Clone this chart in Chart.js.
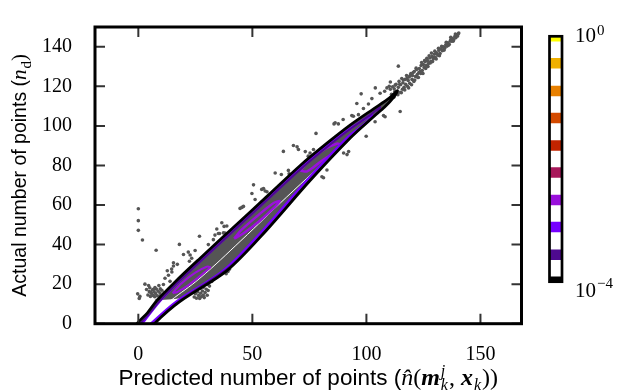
<!DOCTYPE html>
<html>
<head>
<meta charset="utf-8">
<script src="https://cdn.jsdelivr.net/npm/chart.js@4.4.0/dist/chart.umd.min.js"></script>
<style>
  html, body { margin: 0; padding: 0; background: #fff; }
  #wrap { position: relative; width: 622px; height: 392px; }
  #mainChart { position: absolute; left: 0; top: 0; }
  #barChart { position: absolute; left: 530px; top: 0; }
</style>
</head>
<body>
<div id="wrap">
  <canvas id="mainChart" width="622" height="392"></canvas>
  <canvas id="barChart" width="92" height="392"></canvas>
</div>
<script>
// axis ticks
const xTickValues = [0, 50, 100, 150];
const yTickValues = [0, 20, 40, 60, 80, 100, 120, 140];

// contour lines (predicted, actual)
const contourBlack = [
  [-4, -6], [-0.6, 0], [4, 5.5], [8, 11.5], [16, 21], [27, 33], [42, 49], [57, 65], [71, 80],
  [83, 91.5], [93, 100.5], [103, 108.5], [110, 114], [113.6, 117.8],
  [112, 114.5], [108, 109.5], [103, 104.5], [93, 94], [75, 72], [56, 47], [39, 27], [18, 11],
  [7, 0], [3, -6], [-4, -6]
];
const contourIndigo = [
  [-2, -5], [0.8, 0], [5, 5.5], [9, 11], [17, 20.5], [28, 32.3], [43, 48.2], [58, 64.2], [72, 79],
  [84, 90.5], [94, 99.3], [102, 105.8], [106, 109.5],
  [104.5, 106.5], [100, 101.5], [94, 95.2], [76, 73.6], [57, 48.7], [40, 28.6], [19, 12.3],
  [8, 1.2], [4, -5], [-2, -5]
];
const contourViolet = [
  [0, -3], [2, 0.5], [9.5, 11.5], [17.5, 21], [28.5, 33], [43.5, 49], [58.5, 65], [72.5, 80],
  [84.5, 91.5], [94, 99.5], [100, 104], [102.4, 105.8],
  [101.5, 103.5], [97, 99], [91.5, 94], [73.5, 72], [54.5, 47], [37.5, 27], [16.5, 11],
  [5.5, 0], [3, -3], [0, -3]
];
const loopA = [[42, 43], [45, 47.2], [52, 54.3], [59, 60.8], [62, 62], [60, 59.2], [53, 51.8], [46, 45.6], [42, 43]];
const loopB = [[71, 77.5], [75, 82.5], [82, 88.5], [87, 91], [88.5, 90.5], [86, 87], [80, 82], [74, 77], [71, 77.5]];
const loopC = [[15, 15.5], [19, 20.5], [25, 25.8], [30, 28.8], [31.5, 28.5], [28, 25], [22, 19.5], [17, 16], [15, 15.5]];
const whiteLine = [[5, 2.5], [14, 11.5], [27, 23], [45, 42], [65, 64], [88, 88.5], [100, 101.5]];

// dense part of the cloud
const grayCore = [
  [7, 11.8], [12, 16.3], [16, 20.7], [27, 32.7], [42, 48.6], [57, 64.6], [71, 79.6], [83, 91.1],
  [93, 100.1], [103, 108.1], [110, 113.7], [113.3, 117.4], [111.8, 114.6], [108, 109.7],
  [103, 104.8], [93, 94.3], [75, 72.3], [56, 47.3], [39, 27.3], [22, 14], [16, 12.5], [10, 12], [7, 11.8]
];

// scattered points
const upperTail = [
  [110.5, 118.5], [111, 116], [111.5, 119.8], [112, 114.5], [112.5, 117.5], [113, 121], [113.5, 116.5],
  [114, 119.5], [114.3, 122.5], [114.8, 117], [115, 120.8], [115.5, 124], [115.8, 118.5], [116, 121.8],
  [116.5, 119.5], [117, 123.5], [117.2, 121], [117.6, 125.5], [118, 120], [118.3, 123], [118.8, 124.8],
  [119, 121.5], [119.5, 126.5], [120, 123.5], [120.2, 125.5], [120.8, 122.5], [121, 127.5], [121.5, 125],
  [122, 128.5], [122.3, 126], [122.8, 124.5], [123.2, 129], [123.5, 127.5], [124, 130.5], [124.5, 128],
  [125, 131], [125.3, 129.5], [125.8, 132.5], [126.2, 130.5], [126.8, 133], [127.2, 131.5], [127.8, 134.3],
  [128.2, 132.5], [128.8, 135], [129.3, 133.8], [129.8, 136.2], [130.3, 134.5], [130.8, 137], [131.3, 135.8],
  [131.8, 138.2], [132.3, 136.6], [132.8, 139], [133.3, 138], [133.8, 140], [134.3, 139.2], [134.8, 141],
  [135.3, 140.3], [135.8, 142], [136.3, 141.3], [136.8, 143], [137.3, 142.8], [137.8, 144.2], [138.3, 143.5],
  [138.8, 145.2], [139.2, 144.6], [139.6, 146], [140, 145.4], [140.3, 146.6], [139, 146.4], [137, 144.8],
  [110.5, 122.2], [109, 119.2], [112.6, 120.6], [108, 117.5], [106, 116.5], [110, 120]
];
const upperTail2 = [
  [112.2, 118.8], [113.8, 115.8], [114.6, 121], [115.3, 116.8], [116.2, 123.2], [116.8, 118.2], [117.8, 124],
  [118.5, 119.2], [119.2, 125.5], [119.8, 120.8], [120.5, 127], [121.2, 123.2], [121.8, 129.2], [122.5, 124.5],
  [123, 127], [123.8, 126.5], [124.2, 132], [124.8, 126.5], [125.5, 133], [126, 129], [126.5, 134.2],
  [127, 130], [127.5, 135.5], [128, 131.8], [128.5, 136.8], [129, 132.5], [129.6, 134.6], [130, 137.8],
  [130.6, 133.8], [131, 136.4], [131.6, 139.2], [132, 135.5], [133, 140.2], [134, 138.3], [135, 142.3],
  [136, 140.8], [137, 143.6], [138, 142.8], [139, 145.5], [140.5, 147]
];
const aboveBand = [
  [0, 58.1], [0, 52.1], [0, 47.2], [1.8, 42.3], [7.8, 37.1], [2.9, 20], [4.5, 19.3], [-0.3, 15.1],
  [0.7, 13.8], [0.4, 12.8], [6.6, 17.4], [5.4, 15.9], [7.3, 18.3], [9, 19.3], [9.6, 17.6],
  [11, 19.8], [11.7, 23], [13.2, 24.5], [13.9, 21.4], [14.7, 26.1], [15.4, 29.2], [12.7, 26.8], [14.6, 27.6],
  [15.4, 30.8], [17.1, 30], [18, 40.1], [19.8, 35], [21.9, 36.2], [22.7, 34.7], [23.4, 33.1], [22.4, 31.6],
  [24.9, 37], [26.8, 44.2], [30.7, 40], [32.9, 42.5], [33.6, 44.8], [34.4, 47.9], [35.1, 45.6], [35.6, 45.6],
  [36.6, 51], [37.6, 49.2], [38.8, 49.4], [37.3, 45.9], [38, 45.8], [44.6, 58.3], [45.4, 58.8], [46.1, 59.3],
  [49.8, 65.8], [50.5, 70.2], [51.2, 62.8], [54.1, 67.9], [54.9, 68.3], [55.6, 67.1], [56.4, 66.7], [60, 76.2],
  [62.7, 75.4], [65.8, 77.5], [66.1, 75.8], [63.6, 87.1], [68, 90.1], [69.6, 89.4], [70.2, 88.1], [73.2, 87],
  [74.5, 84.7], [75.3, 86.3], [76.8, 88.1], [77.9, 96.2], [85.8, 101], [87.7, 101], [86.3, 101.6],
  [89.8, 103.2], [93.6, 105.2], [94.3, 104.9], [96.5, 105.7], [95.8, 111.3], [98.7, 108.8], [100.9, 111.1],
  [97.7, 116.2], [102.4, 113.8], [103.9, 119.2], [114, 130.2]
];
const belowBand = [
  [24.5, 13.5], [25, 15.2], [25.5, 12.9], [26, 16.1], [26.4, 14.2], [26.9, 12.8], [27.3, 15.4], [27.7, 13.7],
  [28.1, 16.5], [28.5, 14.5], [28.9, 13.2], [29.3, 15.8], [29.8, 17.4], [30.2, 14.4], [30.6, 16.8], [31.2, 19],
  [31.4, 22.3], [32.2, 21.3], [30.4, 19.8], [28.6, 18.4], [27.2, 17.8], [38.5, 25.3], [39.3, 26.4], [40, 27.6],
  [80.5, 74.3], [81.2, 73.8], [82.7, 77.7], [90, 86.3], [91.5, 85.5], [92.2, 87], [99.9, 94.8],
  [103.8, 102.1], [107.5, 105.2], [108.2, 104.6], [114.8, 107.3]
];
const lowClump = [
  [4.2, 14.5], [4.8, 16.2], [5.3, 13.8], [5.8, 15.3], [6.2, 17.2], [6.5, 14.2], [6.9, 16.1], [7.2, 13.6],
  [7.6, 15.2], [7.9, 17.5], [8.3, 14.1], [8.7, 16.4], [9.1, 13.7], [9.5, 15.5], [9.9, 14.4], [10.3, 16.9],
  [10.8, 13.7], [11.3, 15.6], [11.8, 14.3], [12.4, 13.7], [13, 15], [13.6, 13.8], [14.3, 14.6], [15, 13.7],
  [3.6, 17.3], [5, 18.2]
];

// colour bar: log10 density levels and their colours
const barLevels = [-4, -3.56, -3.11, -2.67, -2.22, -1.78, -1.33, -0.89, -0.44, 0];
const barColors = ["#000000", "#4e0a90", "#7600ff", "#9a10dc", "#a8185a", "#c22400", "#d44a00", "#e88000", "#f0b000", "#ffff00"];

const xy = (arr) => arr.map(([x, y]) => ({ x, y }));

const serif = '"Liberation Serif", "DejaVu Serif", serif';
const sans = '"Liberation Sans", Arial, sans-serif';

function contour(data, color, width) {
  return {
    type: "line", data: xy(data), borderColor: color, borderWidth: width,
    pointRadius: 0, tension: 0.3, fill: false
  };
}
function cloud(data) {
  return {
    type: "scatter", data: xy(data), pointRadius: 1.8, pointBorderWidth: 0,
    backgroundColor: "#555", borderColor: "#555"
  };
}

// text made of runs with different fonts
function runWidth(ctx, r) {
  ctx.font = r.font;
  if (r.sup !== undefined) {
    return Math.max(ctx.measureText(r.sup).width, ctx.measureText(r.sub).width);
  }
  return ctx.measureText(r.text).width;
}
function drawRuns(ctx, runs, x, y) {
  runs.forEach((r) => {
    ctx.font = r.font;
    if (r.sup !== undefined) {
      ctx.fillText(r.sup, x, y - 9);
      ctx.fillText(r.sub, x, y + 5);
    } else {
      ctx.fillText(r.text, x, y + (r.dy || 0));
    }
    x += runWidth(ctx, r) + (r.gap || 0);
  });
}
function totalWidth(ctx, runs) {
  return runs.reduce((s, r) => s + runWidth(ctx, r) + (r.gap || 0), 0);
}

const xTitle = [
  { text: "Predicted number of points (", font: "22.5px " + sans },
  { text: "n\u0302", font: "italic 24px " + serif },
  { text: "(", font: "24px " + serif },
  { text: "m", font: "italic bold 24px " + serif, gap: 1 },
  { sup: "j", sub: "k", font: "italic 16px " + serif, gap: 1 },
  { text: ", ", font: "24px " + serif },
  { text: "x", font: "italic bold 24px " + serif, gap: 1 },
  { text: "k", font: "italic 16px " + serif, dy: 5, gap: 1 },
  { text: "))", font: "24px " + serif }
];
const yTitle = [
  { text: "Actual number of points (", font: "19.5px " + sans },
  { text: "n", font: "italic 21px " + serif, gap: 1 },
  { text: "d", font: "15px " + serif, dy: 5 },
  { text: ")", font: "21px " + serif }
];

const framePlugin = {
  id: "frame",
  afterDatasetsDraw(chart) {
    const { ctx, chartArea: a, scales } = chart;
    ctx.save();
    ctx.strokeStyle = "#333";
    ctx.lineWidth = 2;
    ctx.beginPath();
    xTickValues.forEach((v) => {
      const px = scales.x.getPixelForValue(v);
      ctx.moveTo(px, a.bottom); ctx.lineTo(px, a.bottom - 10);
      ctx.moveTo(px, a.top); ctx.lineTo(px, a.top + 10);
    });
    yTickValues.forEach((v) => {
      const py = scales.y.getPixelForValue(v);
      ctx.moveTo(a.left, py); ctx.lineTo(a.left + 10, py);
      ctx.moveTo(a.right, py); ctx.lineTo(a.right - 10, py);
    });
    ctx.stroke();
    ctx.strokeStyle = "#000";
    ctx.lineWidth = 3;
    ctx.strokeRect(a.left, a.top, a.right - a.left, a.bottom - a.top);
    ctx.restore();
  },
  afterDraw(chart) {
    const { ctx, chartArea: a } = chart;
    ctx.save();
    ctx.fillStyle = "#000";
    ctx.textBaseline = "alphabetic";
    ctx.textAlign = "left";
    const wx = totalWidth(ctx, xTitle);
    drawRuns(ctx, xTitle, (a.left + a.right) / 2 - wx / 2, 385);
    const wy = totalWidth(ctx, yTitle);
    ctx.translate(26, (a.top + a.bottom) / 2);
    ctx.rotate(-Math.PI / 2);
    drawRuns(ctx, yTitle, -wy / 2, 0);
    ctx.restore();
  }
};

new Chart(document.getElementById("mainChart"), {
  type: "scatter",
  data: {
    datasets: [
      contour(contourBlack, "#000", 2.8),
      contour(contourIndigo, "#4e0a90", 2),
      contour(contourViolet, "#7600ff", 2.5),
      contour(loopA, "#9a10dc", 2.5),
      contour(loopB, "#9a10dc", 2.5),
      contour(loopC, "#9a10dc", 2),
      Object.assign(contour(whiteLine, "#fff", 1), { tension: 0.4 }),
      cloud(upperTail),
      cloud(upperTail2),
      cloud(aboveBand),
      cloud(belowBand),
      cloud(lowClump),
      {
        type: "line", data: xy(grayCore), borderWidth: 0, borderColor: "rgba(0,0,0,0)",
        backgroundColor: "#555", pointRadius: 0, tension: 0.3, fill: "shape"
      }
    ]
  },
  options: {
    responsive: false,
    animation: false,
    devicePixelRatio: 1,
    layout: { padding: { top: 4, right: 100.5, left: 0, bottom: 0 } },
    plugins: { legend: { display: false }, tooltip: { enabled: false } },
    scales: {
      x: {
        type: "linear", min: -19, max: 168,
        grid: { display: false }, border: { display: false },
        ticks: { font: { family: serif, size: 20 }, color: "#000", padding: 11, maxRotation: 0 },
        afterBuildTicks: (s) => { s.ticks = xTickValues.map((v) => ({ value: v })); },
        afterFit: (s) => { s.height = 68.3; }
      },
      y: {
        type: "linear", min: 0, max: 150,
        grid: { display: false }, border: { display: false },
        ticks: { font: { family: serif, size: 20 }, color: "#000", padding: 15 },
        afterBuildTicks: (s) => { s.ticks = yTickValues.map((v) => ({ value: v })); },
        afterFit: (s) => { s.width = 95; }
      }
    }
  },
  plugins: [framePlugin]
});

// colour bar
const half = 0.08;
const barPlugin = {
  id: "barFrame",
  afterDraw(chart) {
    const { ctx, chartArea: a, scales } = chart;
    ctx.save();
    ctx.strokeStyle = "#000";
    ctx.lineWidth = 2.7;
    ctx.strokeRect(a.left, a.top, a.right - a.left, a.bottom - a.top);
    ctx.fillStyle = "#000";
    ctx.textAlign = "left";
    ctx.textBaseline = "alphabetic";
    const x0 = a.right + 13;
    const yTop = scales.y.getPixelForValue(0) + 5.5;
    const yBot = scales.y.getPixelForValue(-4) + 15;
    ctx.font = "21px " + serif;
    const w10 = ctx.measureText("10").width;
    ctx.fillText("10", x0, yTop);
    ctx.fillText("10", x0, yBot);
    ctx.font = "15px " + serif;
    ctx.fillText("0", x0 + w10 + 1, yTop - 7);
    ctx.fillText("\u22124", x0 + w10 + 1, yBot - 9);
    ctx.restore();
  }
};

new Chart(document.getElementById("barChart"), {
  type: "bar",
  data: {
    labels: ["density"],
    datasets: barLevels.map((lvl, i) => ({
      data: [[Math.max(-4, lvl - half), Math.min(0, lvl + half)]],
      backgroundColor: barColors[i],
      borderWidth: 0,
      grouped: false,
      barPercentage: 1,
      categoryPercentage: 1
    }))
  },
  options: {
    responsive: false,
    animation: false,
    devicePixelRatio: 1,
    layout: { padding: { left: 19.5, right: 60, top: 36.3, bottom: 110.3 } },
    plugins: { legend: { display: false }, tooltip: { enabled: false } },
    scales: {
      x: { display: false },
      y: { display: false, min: -4, max: 0 }
    }
  },
  plugins: [barPlugin]
});
</script>
</body>
</html>
